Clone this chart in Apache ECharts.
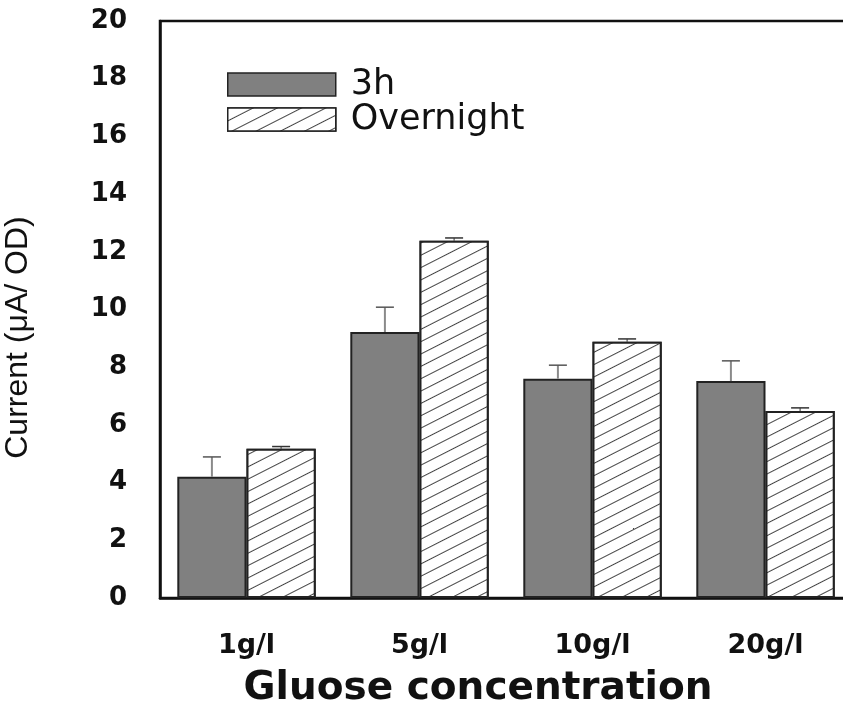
<!DOCTYPE html>
<html>
<head>
<meta charset="utf-8">
<script src="https://cdn.jsdelivr.net/npm/echarts@6/dist/echarts.min.js"></script>
<style>
  html, body { margin: 0; padding: 0; background: #fff; }
  #chart { width: 843px; height: 706px; }
</style>
</head>
<body>
<div id="chart"></div>
<script>
// ---- data ----
const categories = ['1g/l', '5g/l', '10g/l', '20g/l'];
const seriesNames = ['3h', 'Overnight'];
const values3h = [4.2, 9.22, 7.6, 7.52];
const valuesOvernight = [5.17, 12.38, 8.88, 6.48];
const errors3h = [0.69, 0.86, 0.47, 0.70];
const errorsOvernight = [0.08, 0.10, 0.10, 0.11];
const yTicks = { min: 0, max: 20, interval: 2 };
const xTitle = 'Gluose concentration';
const yTitle = 'Current (\u03bcA/ OD)';

// ---- chart ----
const chart = echarts.init(document.getElementById('chart'), null, { renderer: 'canvas' });

function errorData(vals, errs) {
  return vals.map((v, i) => [i, v, errs[i]]);
}

function makeErrorRenderer(side, stemColor, stemWidth, capColor) {
  return function (params, api) {
    const idx = api.value(0);
    const mean = api.value(1);
    const err = api.value(2);
    const band = api.size([1, 0])[0];
    const offset = side * band * 0.2;
    const pBase = api.coord([idx, mean]);
    const pTop = api.coord([idx, mean + err]);
    const x = pBase[0] + offset;
    const capHalf = 9;
    return {
      type: 'group',
      children: [
        { type: 'line', shape: { x1: x, y1: pBase[1], x2: x, y2: pTop[1] },
          style: { stroke: stemColor, lineWidth: stemWidth } },
        { type: 'line', shape: { x1: x - capHalf, y1: pTop[1], x2: x + capHalf, y2: pTop[1] },
          style: { stroke: capColor, lineWidth: 1.5 } }
      ]
    };
  };
}

const option = {
  backgroundColor: '#ffffff',
  animation: false,
  grid: {
    left: 160, top: 21, bottom: 108, width: 692,
    show: true, borderColor: '#111', borderWidth: 2.5, backgroundColor: 'transparent',
    containLabel: false,
    outerBoundsMode: 'none'
  },
  legend: {
    data: seriesNames,
    orient: 'vertical',
    left: 222, top: 62,
    itemWidth: 108, itemHeight: 23, itemGap: 0,
    icon: 'rect',
    itemStyle: { borderColor: '#222', borderWidth: 1.5 },
    textStyle: { fontFamily: 'DejaVu Sans', fontSize: 35, color: '#111', padding: [0, 0, 0, 10] }
  },
  xAxis: {
    type: 'category',
    data: categories,
    axisLine: { show: true, lineStyle: { color: '#111', width: 2.5 } },
    axisTick: { show: false },
    axisLabel: { fontFamily: 'DejaVu Sans', fontWeight: 'bold', fontSize: 27, color: '#111', margin: 34 },
    name: xTitle,
    nameLocation: 'middle',
    nameGap: 71,
    nameTextStyle: { fontFamily: 'DejaVu Sans', fontWeight: 'bold', fontSize: 39, color: '#111', padding: [0, 56, 0, 0] }
  },
  yAxis: {
    type: 'value',
    min: yTicks.min, max: yTicks.max, interval: yTicks.interval,
    axisLine: { show: true, lineStyle: { color: '#111', width: 2.5 } },
    axisTick: { show: false },
    splitLine: { show: false },
    axisLabel: { fontFamily: 'DejaVu Sans', fontWeight: 'bold', fontSize: 26, color: '#111', margin: 33 },
    name: yTitle,
    nameLocation: 'middle',
    nameRotate: 90,
    nameGap: 126,
    nameTextStyle: { fontFamily: 'Liberation Sans', fontSize: 32, color: '#111', padding: [0, 56, 0, 0] }
  },
  series: [
    {
      name: seriesNames[0],
      type: 'bar',
      data: values3h,
      barGap: '0%',
      barCategoryGap: '20%',
      itemStyle: { color: '#808080', borderColor: '#222', borderWidth: 2 },
      z: 2
    },
    {
      name: seriesNames[1],
      type: 'bar',
      data: valuesOvernight,
      barGap: '0%',
      barCategoryGap: '20%',
      itemStyle: {
        color: '#ffffff', borderColor: '#222', borderWidth: 2,
        decal: {
          symbol: 'rect', symbolSize: 1,
          dashArrayX: [1, 0], dashArrayY: [1, 10],
          rotation: -Math.PI * 27 / 180,
          color: '#444', backgroundColor: '#ffffff'
        }
      },
      z: 2
    },
    {
      name: 'err3h',
      type: 'custom',
      data: errorData(values3h, errors3h),
      renderItem: makeErrorRenderer(-1, '#8a8a8a', 2, '#555'),
      z: 3,
      silent: true
    },
    {
      name: 'errOvernight',
      type: 'custom',
      data: errorData(valuesOvernight, errorsOvernight),
      renderItem: makeErrorRenderer(1, '#333', 1, '#333'),
      z: 3,
      silent: true
    }
  ]
};
chart.setOption(option);
</script>
</body>
</html>
